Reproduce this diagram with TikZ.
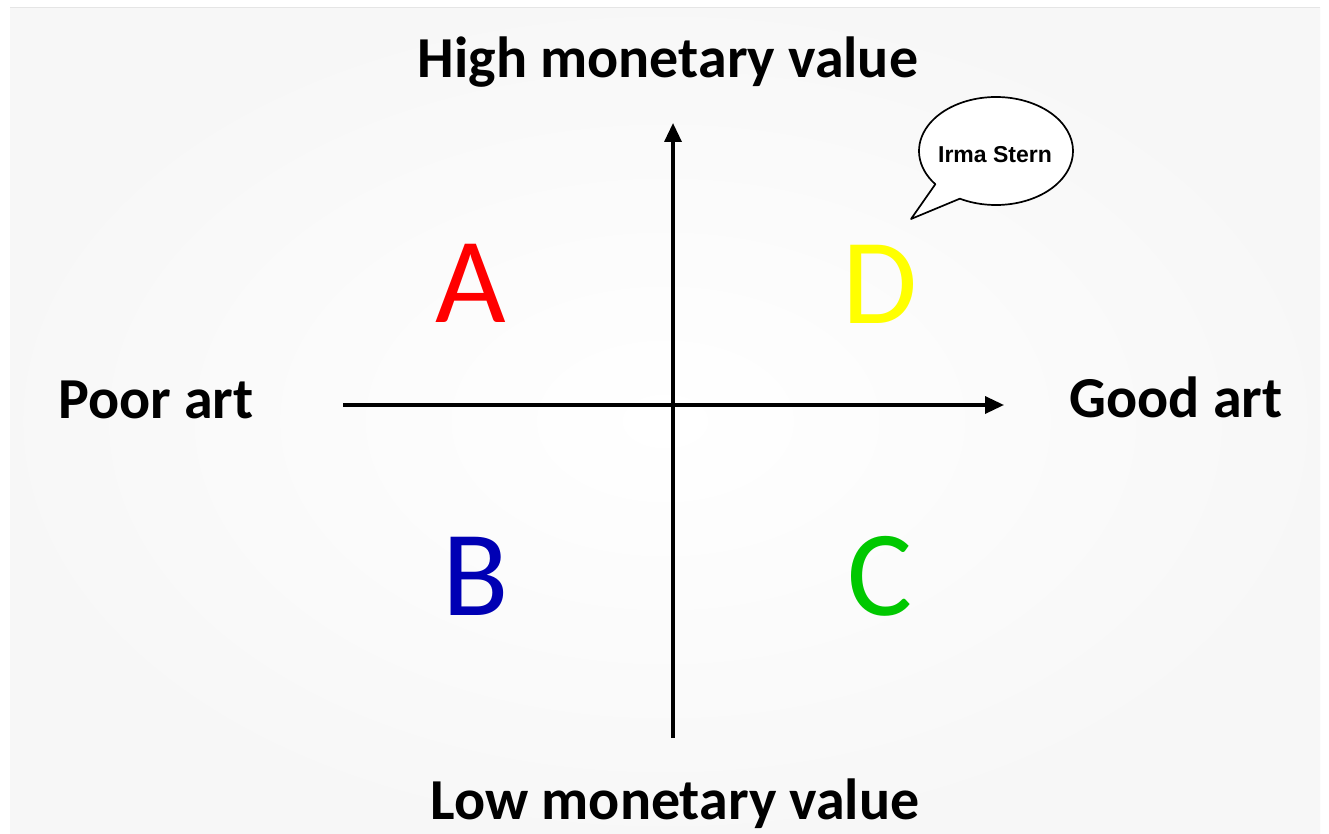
\documentclass[tikz,border=0pt]{standalone}
\usepackage{fontspec}
\setmainfont{Carlito}
\newfontfamily\bubblefont{Liberation Sans}
\usetikzlibrary{arrows.meta,calc}
\definecolor{qred}{HTML}{FF0000}
\definecolor{qyellow}{HTML}{FFFF00}
\definecolor{qblue}{HTML}{0000B4}
\definecolor{qgreen}{HTML}{00C800}
\tikzset{
  axislabel/.style={anchor=base, inner sep=0pt, font=\fontsize{58}{60}\selectfont\bfseries},
  quadletter/.style={anchor=base, inner sep=0pt, font=\fontsize{122}{130}\selectfont},
  axisline/.style={line width=3.4pt, -{Triangle[length=19pt,width=17pt]}},
  bubble/.style={draw=black, line width=1.7pt, fill=white, line join=round},
}
\begin{document}
\begin{tikzpicture}[x=1pt,y=-1pt]
\useasboundingbox (0,0) rectangle (1329,834);
\fill[white] (0,0) rectangle (1329,834);
\shade[inner color=white, outer color=black!3] (10,8) rectangle (1320,834);
\draw[black!10, line width=1pt] (10,8) -- (1320,8);

% axes
\coordinate (vbot) at (673,738);
\coordinate (vtop) at (673,123);
\coordinate (hleft) at (343,405);
\coordinate (hright) at (1004,405);
\draw[axisline] (vbot) -- (vtop);
\draw[axisline] (hleft) -- (hright);

% axis labels
\node[axislabel] (high) at (668,78) {High monetary value};
\node[axislabel] (low) at (675,819) {Low monetary value};
\node[axislabel] (poor) at (156,418) {Poor art};
\node[axislabel] (good) at (1176,417) {Good art};

% quadrant letters
\node[quadletter, text=qred] (A) at (471,322) {A};
\node[quadletter, text=qyellow] (D) at (880,323) {D};
\node[quadletter, text=qblue] (B) at (476,615) {B};
\node[quadletter, text=qgreen] (C) at (880,615) {C};

% speech bubble
\coordinate (bc) at (996,151);
\coordinate (tailtip) at (911,219);
\coordinate (tl) at ($(bc)+(142:77 and 54)$);
\coordinate (tr) at ($(bc)+(118:77 and 54)$);
\draw[bubble] (tl) -- (tailtip) -- (tr)
  arc[start angle=118, end angle=-218, x radius=77, y radius=54] -- cycle;
\node[anchor=base, inner sep=0pt, font=\bubblefont\fontsize{23}{25}\selectfont\bfseries] (irma) at (995,163) {Irma Stern};
\end{tikzpicture}
\end{document}
